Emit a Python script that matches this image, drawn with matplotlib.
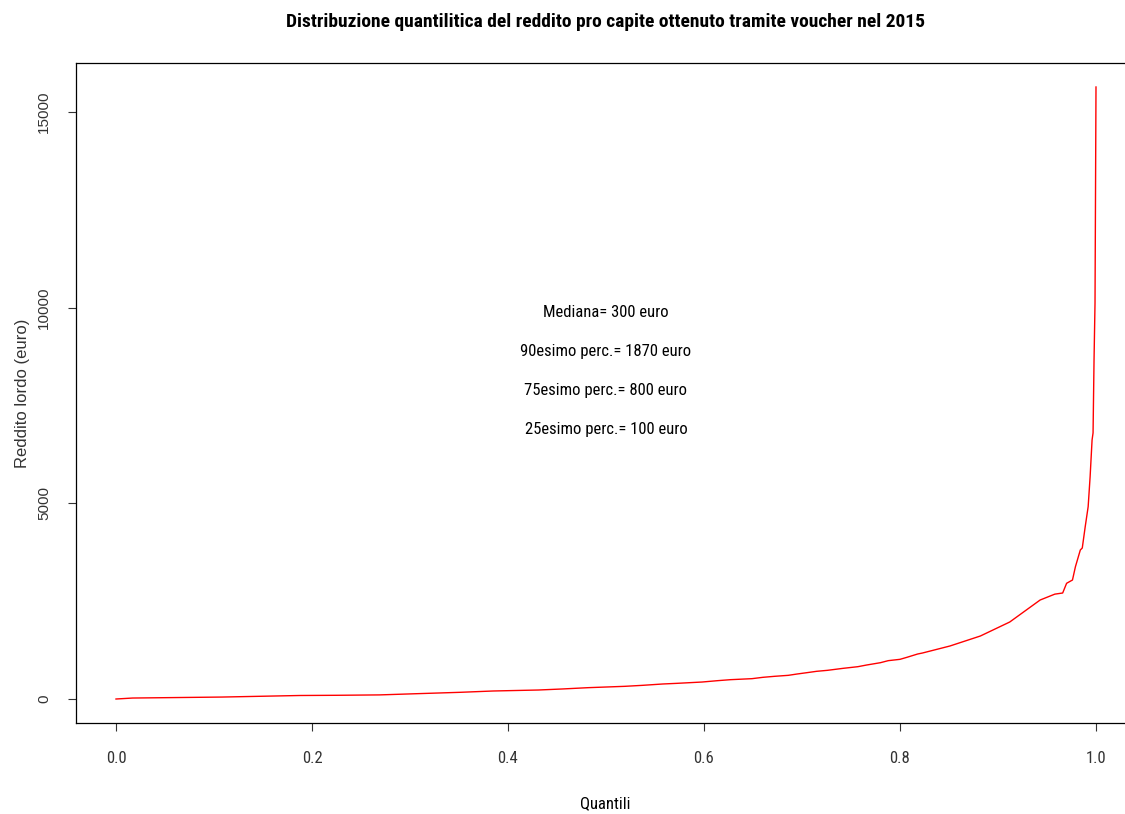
import matplotlib
matplotlib.use("Agg")
import matplotlib.pyplot as plt
from matplotlib import font_manager

# quantile function of per-capita voucher income (2015)
quantili = [0.0, 0.017, 0.108, 0.188, 0.225, 0.269, 0.307, 0.351, 0.385, 0.431,
            0.455, 0.482, 0.519, 0.537, 0.558, 0.572, 0.598, 0.614, 0.627, 0.649,
            0.660, 0.672, 0.686, 0.695, 0.705, 0.715, 0.726, 0.742, 0.757, 0.766,
            0.780, 0.788, 0.800, 0.807, 0.818, 0.823, 0.851, 0.882, 0.912, 0.943,
            0.958, 0.966, 0.970, 0.976, 0.979, 0.984, 0.986, 0.989, 0.992, 0.994,
            0.996, 0.997, 0.998, 0.999, 1.0]
reddito = [0, 25, 50, 90, 95, 105, 136, 171, 205, 230,
           256, 290, 324, 349, 384, 400, 434, 469, 494, 520,
           554, 580, 605, 639, 673, 708, 733, 784, 826, 869,
           928, 980, 1014, 1065, 1150, 1176, 1355, 1610, 1968, 2530,
           2680, 2709, 2957, 3041, 3380, 3808, 3859, 4404, 4915, 5680,
           6620, 6800, 8660, 10120, 15640]

etichette = ["Mediana= 300 euro", "90esimo perc.= 1870 euro",
             "75esimo perc.= 800 euro", "25esimo perc.= 100 euro"]
pos_y = [10000, 9000, 8000, 7000]

installed = {f.name for f in font_manager.fontManager.ttflist}
narrow_name = next((n for n in ["Liberation Sans Narrow", "Roboto Condensed",
                                "Open Sans Condensed", "Liberation Sans"] if n in installed),
                   "DejaVu Sans")
narrow = [narrow_name, "DejaVu Sans"]
regular = ["Liberation Sans", "DejaVu Sans"]

fig = plt.figure(figsize=(11.25, 8.14), dpi=100)
ax = fig.add_axes([76 / 1125, 1 - 723 / 814, (1135 - 76) / 1125, (723 - 63) / 814])

ax.plot(quantili, reddito, color="red", lw=1.0)

for t, y in zip(etichette, pos_y):
    ax.annotate(t, (0.5, y), xytext=(0, -3.5), textcoords="offset points",
                ha="center", va="center", fontsize=12, family=narrow)

ax.set_xlim(-0.0408, 1.0398)
ax.set_ylim(-613, 16253)
ax.set_xticks([0.0, 0.2, 0.4, 0.6, 0.8, 1.0])
ax.set_xticklabels(["0.0", "0.2", "0.4", "0.6", "0.8", "1.0"], family=narrow, fontsize=12)
ax.set_yticks([0, 5000, 10000, 15000])
ax.set_yticklabels(["0", "5000", "10000", "15000"], family=regular, fontsize=11,
                   rotation=90, va="center", color="#333333")
ax.tick_params(axis="x", length=6, width=0.8, pad=14, colors="#333333")
ax.tick_params(axis="y", length=6, width=0.8, pad=12, colors="#333333")
for s in ax.spines.values():
    s.set_linewidth(0.9)

ax.set_title("Distribuzione quantilitica del reddito pro capite ottenuto tramite voucher nel 2015",
             family=narrow, fontsize=14, fontweight="bold", pad=26)
ax.set_xlabel("Quantili", family=narrow, fontsize=12, labelpad=22)
ax.set_ylabel("Reddito lordo (euro)", family=regular, fontsize=12, labelpad=5, color="#333333")

fig.savefig("out.png", dpi=100)
